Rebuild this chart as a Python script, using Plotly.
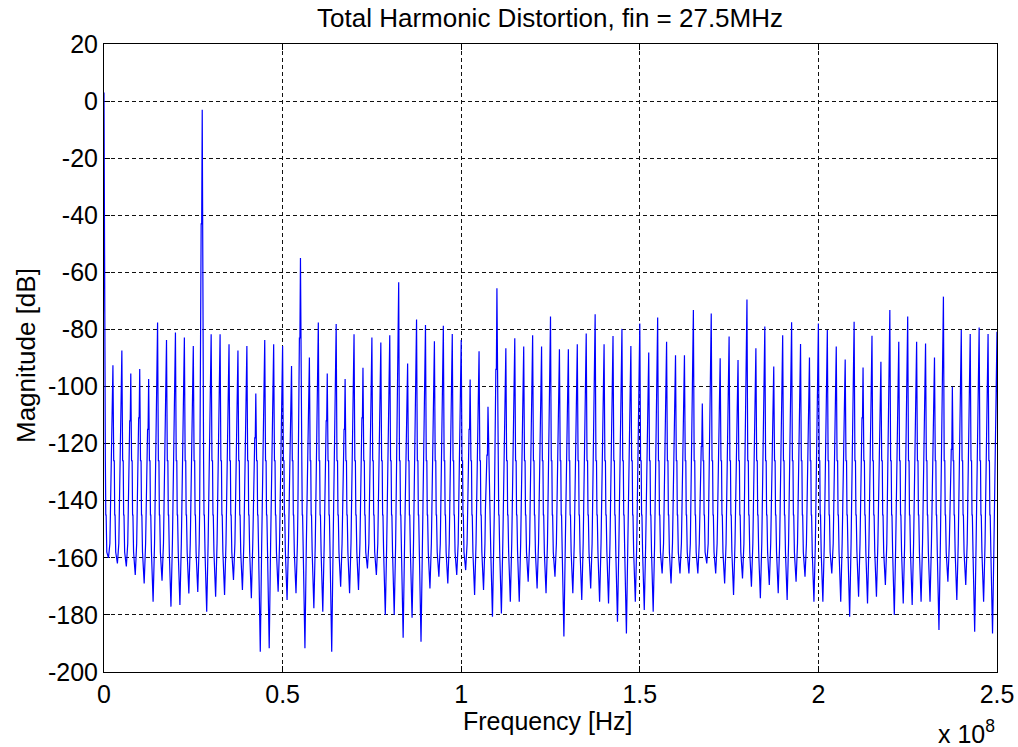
import plotly.graph_objects as go

# Spur grid: spectral lines fall on multiples of 2.5 MHz (k = 0 .. 100)
SPUR_STEP_HZ = 2.5e6

# Peak level of each spectral line [dB]
peak_db = [
    3.0, -92.5, -87.4, -95.4, -93.9, -97.4, -77.6, -83.7, -81.1, -82.8,
    -85.8, -3.0, -81.7, -81.7, -85.2, -87.4, -85.8, -102.4, -83.7, -85.2,
    -85.8, -92.8, -55.0, -89.8, -77.6, -95.4, -78.1, -97.4, -81.7, -93.4,
    -82.8, -84.6, -82.0, -63.5, -91.9, -76.5, -78.4, -84.1, -78.7, -81.6,
    -83.7, -97.5, -87.6, -107.1, -65.6, -86.6, -83.1, -86.0, -82.0, -86.0,
    -75.5, -86.9, -86.9, -85.2, -81.4, -74.7, -85.2, -82.3, -79.8, -85.8,
    -77.9, -88.1, -75.8, -84.3, -89.0, -89.0, -73.2, -105.9, -74.4, -90.1,
    -82.5, -90.7, -69.5, -86.6, -79.0, -93.0, -82.0, -77.5, -85.1, -89.8,
    -77.9, -80.2, -86.0, -90.5, -77.3, -93.3, -82.2, -91.3, -73.2, -84.3,
    -75.5, -84.3, -84.9, -89.8, -68.5, -100.1, -80.2, -81.6, -79.3, -81.6,
    -80.8,
]

# Level of the bin just below each line (its leakage shoulder) [dB]
shoulder_db = [
    -73, -109, -106, -112, -111, -115, -102, -104, -103, -104,
    -105, -43, -103, -103, -105, -106, -105, -118, -104, -105,
    -105, -110, -83, -108, -102, -112, -102, -115, -103, -111,
    -104, -104, -103, -90, -110, -101, -102, -104, -102, -103,
    -104, -115, -106, -124, -94, -106, -104, -105, -103, -105,
    -100, -106, -106, -105, -103, -100, -105, -103, -102, -105,
    -102, -107, -101, -104, -107, -107, -99, -121, -100, -108,
    -104, -109, -97, -106, -102, -110, -103, -102, -105, -108,
    -102, -103, -105, -109, -101, -111, -103, -109, -101, -104,
    -101, -104, -105, -108, -94, -122, -103, -103, -102, -103,
    -103,
]

# Deepest noise-floor point between line k and line k+1 [dB]
floor_db = [
    -160.0, -162.0, -163.0, -166.0, -169.0, -175.4, -168.0, -177.1, -176.5, -172.5,
    -172.0, -178.9, -173.6, -173.0, -167.8, -171.3, -174.2, -192.9, -191.7, -171.9,
    -174.8, -172.4, -191.7, -177.7, -178.9, -192.9, -170.1, -172.4, -171.3, -163.7,
    -166.0, -180.0, -180.0, -188.0, -181.0, -189.4, -170.7, -166.6, -169.0, -166.0,
    -164.3, -173.0, -171.3, -180.6, -179.5, -175.4, -175.4, -168.4, -170.7, -172.4,
    -166.6, -187.6, -172.4, -174.8, -170.7, -175.4, -176.0, -182.4, -186.5, -175.4,
    -178.3, -178.9, -165.5, -169.0, -165.5, -165.5, -165.5, -162.0, -165.5, -169.0,
    -173.0, -167.2, -170.1, -174.2, -169.5, -172.4, -174.8, -168.4, -166.6, -175.4,
    -175.4, -165.5, -175.4, -180.6, -173.6, -176.0, -173.6, -169.5, -180.0, -176.0,
    -176.5, -175.4, -175.4, -185.3, -168.4, -174.8, -169.5, -185.9, -175.4, -186.5,
]

# Side-lobe steps that surround every line [dB]
rise_step_db = -143.0
fall_steps_db = [-126.0, -145.0]
floor_edges_db = [-158.0, -155.0]

x_ticks = [0, 0.5e8, 1.0e8, 1.5e8, 2.0e8, 2.5e8]
x_tick_text = ["0", "0.5", "1", "1.5", "2", "2.5"]
y_ticks = [20, 0, -20, -40, -60, -80, -100, -120, -140, -160, -180, -200]
y_tick_text = ["20", "0", "-20", "-40", "-60", "-80", "-100", "-120",
               "-140", "-160", "-180", "-200"]

# Assemble the spectrum trace from the per-line values (bin offsets in Hz)
freq_hz, mag_db = [], []
for k, (pk, sh) in enumerate(zip(peak_db, shoulder_db)):
    f0 = k * SPUR_STEP_HZ
    pts = [
        (-0.72e6, rise_step_db),
        (-0.30e6, sh),
        (-0.15e6, sh),
        (0.0, pk),
        (0.22e6, fall_steps_db[0]),
        (0.38e6, fall_steps_db[0]),
        (0.50e6, fall_steps_db[1]),
        (0.60e6, fall_steps_db[1]),
    ]
    if k < len(floor_db):
        pts += [
            (0.78e6, floor_edges_db[0]),
            (1.25e6, floor_db[k]),
            (1.65e6, floor_edges_db[1]),
        ]
    for off, lvl in pts:
        freq_hz.append(f0 + off)
        mag_db.append(lvl)

FONT = "Liberation Sans, Arial, Helvetica, sans-serif"
W, H = 1018, 747
L, R, T, B = 104, 21, 44, 75
plot_w, plot_h = W - L - R, H - T - B


def px_to_paper(xp, yp):
    return (xp - L) / plot_w, (H - B - yp) / plot_h


fig = go.Figure()
fig.add_trace(go.Scatter(
    x=freq_hz, y=mag_db, mode="lines",
    line=dict(color="#0000ff", width=1.2),
    hoverinfo="skip", showlegend=False,
))

axis_common = dict(
    showline=True, linecolor="black", linewidth=1, mirror="ticks",
    ticks="inside", ticklen=6, tickcolor="black",
    showgrid=True, gridcolor="#111111", gridwidth=1, griddash="4px,3px",
    zeroline=False, automargin=False,
    tickfont=dict(family=FONT, size=25, color="black"),
)

fig.update_xaxes(
    range=[0, 2.5e8], tickvals=x_ticks, ticktext=x_tick_text,
    layer="below traces", **axis_common,
)
fig.update_yaxes(
    range=[-200, 20], tickvals=y_ticks, ticktext=y_tick_text,
    layer="below traces", **axis_common,
)

tx, ty = px_to_paper(550, 18)
xt_x, xt_y = px_to_paper(548, 721)
yt_x, yt_y = px_to_paper(26, 356)
ex_x, ex_y = px_to_paper(966, 732)

fig.update_layout(
    width=W, height=H, autosize=False,
    margin=dict(l=L, r=R, t=T, b=B, pad=0, autoexpand=False),
    paper_bgcolor="white", plot_bgcolor="white",
    font=dict(family=FONT, size=25, color="black"),
    annotations=[
        dict(text="Total Harmonic Distortion, fin = 27.5MHz", x=tx, y=ty,
             xref="paper", yref="paper", showarrow=False,
             xanchor="center", yanchor="middle",
             font=dict(family=FONT, size=26, color="black")),
        dict(text="Frequency [Hz]", x=xt_x, y=xt_y,
             xref="paper", yref="paper", showarrow=False,
             xanchor="center", yanchor="middle",
             font=dict(family=FONT, size=25, color="black")),
        dict(text="Magnitude [dB]", x=yt_x, y=yt_y, textangle=-90,
             xref="paper", yref="paper", showarrow=False,
             xanchor="center", yanchor="middle",
             font=dict(family=FONT, size=26, color="black")),
        dict(text="x 10<sup>8</sup>", x=ex_x, y=ex_y,
             xref="paper", yref="paper", showarrow=False,
             xanchor="center", yanchor="middle",
             font=dict(family=FONT, size=25, color="black")),
    ],
)

fig.write_html("out.html")
